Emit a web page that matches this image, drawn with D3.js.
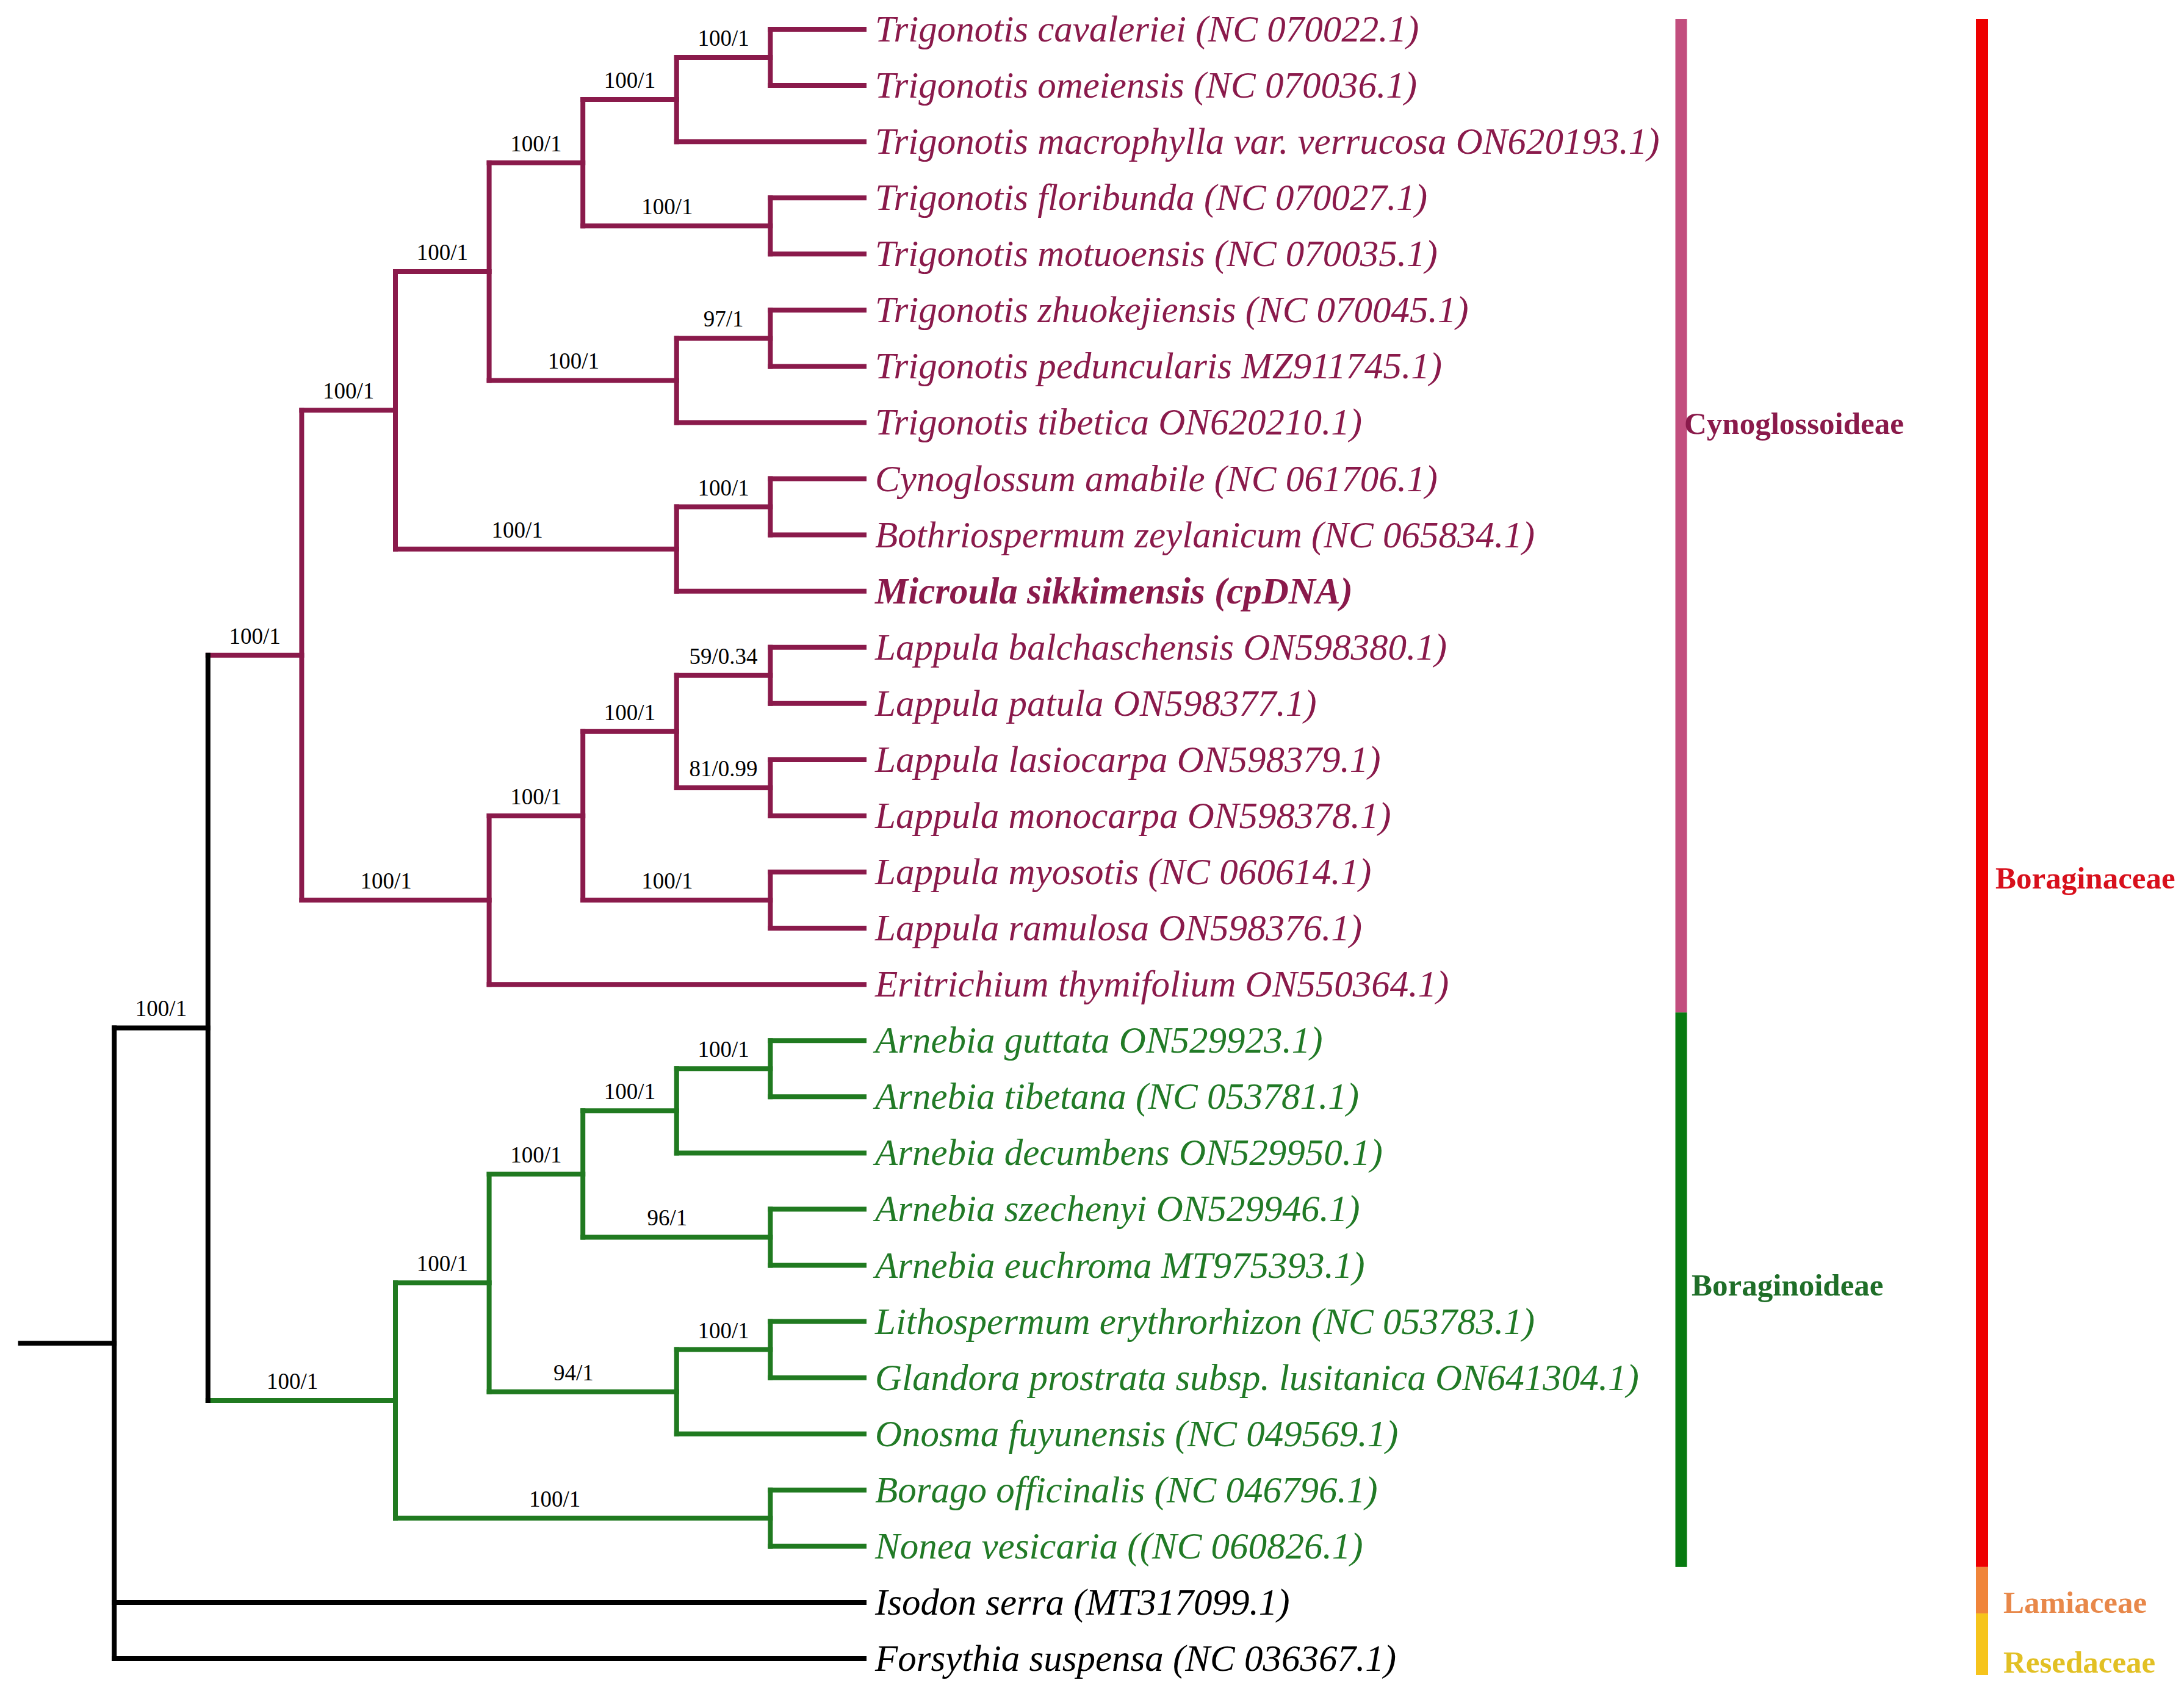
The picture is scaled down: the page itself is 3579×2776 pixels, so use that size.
<!DOCTYPE html>
<html><head><meta charset="utf-8">
<script src="https://cdn.jsdelivr.net/npm/d3@7"></script>
<style>html,body{margin:0;padding:0;background:#fff;} svg{display:block}</style>
</head><body>
<script>
// ---------- DATA ----------
const taxa = [
 "Trigonotis cavaleriei (NC 070022.1)",
 "Trigonotis omeiensis (NC 070036.1)",
 "Trigonotis macrophylla var. verrucosa ON620193.1)",
 "Trigonotis floribunda (NC 070027.1)",
 "Trigonotis motuoensis (NC 070035.1)",
 "Trigonotis zhuokejiensis (NC 070045.1)",
 "Trigonotis peduncularis MZ911745.1)",
 "Trigonotis tibetica ON620210.1)",
 "Cynoglossum amabile (NC 061706.1)",
 "Bothriospermum zeylanicum (NC 065834.1)",
 "Microula sikkimensis (cpDNA)",
 "Lappula balchaschensis ON598380.1)",
 "Lappula patula ON598377.1)",
 "Lappula lasiocarpa ON598379.1)",
 "Lappula monocarpa ON598378.1)",
 "Lappula myosotis (NC 060614.1)",
 "Lappula ramulosa ON598376.1)",
 "Eritrichium thymifolium ON550364.1)",
 "Arnebia guttata ON529923.1)",
 "Arnebia tibetana (NC 053781.1)",
 "Arnebia decumbens ON529950.1)",
 "Arnebia szechenyi ON529946.1)",
 "Arnebia euchroma MT975393.1)",
 "Lithospermum erythrorhizon (NC 053783.1)",
 "Glandora prostrata subsp. lusitanica ON641304.1)",
 "Onosma fuyunensis (NC 049569.1)",
 "Borago officinalis (NC 046796.1)",
 "Nonea vesicaria ((NC 060826.1)",
 "Isodon serra (MT317099.1)",
 "Forsythia suspensa (NC 036367.1)"
];
const highlighted = ["Microula sikkimensis (cpDNA)"];
// topology (leaf = index into taxa) with bootstrap/posterior support on internal nodes
const newick = "((((((((0,1)100/1,2)100/1,(3,4)100/1)100/1,((5,6)97/1,7)100/1)100/1,((8,9)100/1,10)100/1)100/1,((((11,12)59/0.34,(13,14)81/0.99)100/1,(15,16)100/1)100/1,17)100/1)100/1,(((((18,19)100/1,20)100/1,(21,22)96/1)100/1,((23,24)100/1,25)94/1)100/1,(26,27)100/1)100/1)100/1,28,29);";
const subfamilies = ["Cynoglossoideae", "Boraginoideae"];
const subfamilyFirst = [0, 18];
const subfamilyLast  = [17, 27];
const families = ["Boraginaceae", "Lamiaceae", "Resedaceae"];
const familyFirst = [0, 28, 29];
const familyLast  = [27, 28, 29];

// ---------- STYLE ----------
const W = 3579, H = 2776;
const subColors = {Cynoglossoideae: {branch:"#8a1a4b", text:"#8a1a4b", bar:"#c24e7e", label:"#8a1a4b"},
                   Boraginoideae:   {branch:"#207a20", text:"#217a26", bar:"#077a10", label:"#1f6e28"}};
const famColors = {Boraginaceae:{bar:"#ee0000", label:"#d8101c"},
                   Lamiaceae:{bar:"#f0853a", label:"#e8884a"},
                   Resedaceae:{bar:"#f6c41c", label:"#e2c024"}};
const serif = "'Liberation Serif','Times New Roman',serif";

// ---------- PARSE ----------
function parseNewick(s){
  let i = 0;
  function node(){
    if (s[i] === "("){
      i++;
      const ch = [node()];
      while (s[i] === ","){ i++; ch.push(node()); }
      i++;
      let lab = "";
      while (i < s.length && !",);".includes(s[i])) lab += s[i++];
      return {support: lab, children: ch};
    }
    let lab = "";
    while (!",);".includes(s[i])) lab += s[i++];
    return {leaf: +lab};
  }
  return node();
}
const root = d3.hierarchy(parseNewick(newick));

// ---------- SCALES ----------
const x = d3.scaleLinear().domain([0, root.height + 1]).range([1416, 33.6]);
const y = d3.scaleLinear().domain([0, taxa.length - 1]).range([48, 2718]);
const step = x(0) - x(1);

root.eachAfter(n => {
  n.pos = n.children ? (n.children[0].pos + n.children[n.children.length-1].pos) / 2 : n.data.leaf;
  const idx = n.leaves().map(l => l.data.leaf);
  n.group = null;
  subfamilies.forEach((sf, k) => {
    if (idx.every(v => v >= subfamilyFirst[k] && v <= subfamilyLast[k])) n.group = sf;
  });
});
const colorOf = n => n.group ? subColors[n.group].branch : "#000";

const svg = d3.select("body").append("svg").attr("width", W).attr("height", H);
const gBr = svg.append("g").attr("fill","none").attr("stroke-width", 8).attr("stroke-linecap","square");

// root stub
gBr.append("line").attr("x1", x(root.height + 1)).attr("x2", x(root.height))
  .attr("y1", y(root.pos)).attr("y2", y(root.pos)).attr("stroke", "#000");

// horizontal branches
root.descendants().filter(n => n.parent).forEach(n => {
  gBr.append("line").attr("x1", x(n.parent.height)).attr("x2", x(n.height))
    .attr("y1", y(n.pos)).attr("y2", y(n.pos)).attr("stroke", colorOf(n));
});
// vertical connectors
root.descendants().filter(n => n.children).forEach(n => {
  gBr.append("line").attr("x1", x(n.height)).attr("x2", x(n.height))
    .attr("y1", y(n.children[0].pos)).attr("y2", y(n.children[n.children.length-1].pos))
    .attr("stroke", colorOf(n));
});

// support labels
svg.append("g").selectAll("text")
  .data(root.descendants().filter(n => n.parent && n.children && n.data.support))
  .join("text")
  .attr("x", n => { const k = n.parent.height - n.height; return x(n.parent.height) + step * (0.5 + 0.4 * (k - 1)); })
  .attr("y", n => y(n.pos) - 19)
  .attr("text-anchor", "middle")
  .attr("font-family", serif).attr("font-size", 37).attr("fill", "#000")
  .text(n => n.data.support);

// leaf labels
svg.append("g").selectAll("text")
  .data(root.leaves())
  .join("text")
  .attr("x", x(0) + 18)
  .attr("y", n => y(n.pos) + 20)
  .attr("font-family", serif).attr("font-size", 61).attr("font-style", "italic")
  .attr("font-weight", n => highlighted.includes(taxa[n.data.leaf]) ? "bold" : "normal")
  .attr("fill", n => n.group ? subColors[n.group].text : "#000")
  .text(n => taxa[n.data.leaf]);

// subfamily bars
const barW = 19;
const subLabelY = [711, 2123];
subfamilies.forEach((sf, k) => {
  const top = k === 0 ? y(subfamilyFirst[k]) - 17 : (y(subfamilyLast[k-1]) + y(subfamilyFirst[k])) / 2;
  const bot = k === subfamilies.length - 1 ? y(subfamilyLast[k]) + 34 : (y(subfamilyLast[k]) + y(subfamilyFirst[k+1])) / 2;
  svg.append("rect").attr("x", 2755 - barW/2).attr("y", top).attr("width", barW).attr("height", bot - top)
    .attr("fill", subColors[sf].bar);
  svg.append("text").attr("x", k === 0 ? 2760 : 2772).attr("y", subLabelY[k])
    .attr("font-family", serif).attr("font-size", 51).attr("font-weight", "bold")
    .attr("fill", subColors[sf].label).text(sf);
});

// family bars
const famEdges = [y(familyFirst[0]) - 17, y(familyLast[0]) + 34, y(familyLast[1]) + 18, y(familyLast[2]) + 27];
families.forEach((f, k) => {
  const top = famEdges[k], bot = famEdges[k+1];
  svg.append("rect").attr("x", 3248 - 10).attr("y", top).attr("width", 20).attr("height", bot - top)
    .attr("fill", famColors[f].bar);
});
const famLabelY = [1456, 2643, 2741];
families.forEach((f, k) => {
  svg.append("text").attr("x", k === 0 ? 3270 : 3283).attr("y", famLabelY[k])
    .attr("font-family", serif).attr("font-size", 51).attr("font-weight", "bold")
    .attr("fill", famColors[f].label).text(f);
});
</script>
</body></html>
